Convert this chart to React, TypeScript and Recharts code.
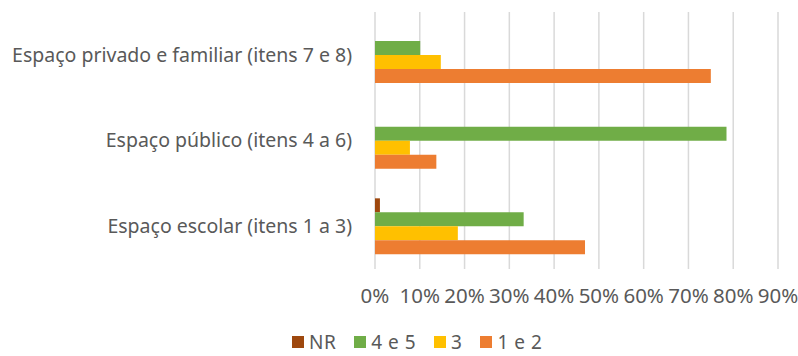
import { BarChart, Bar, XAxis, YAxis, CartesianGrid } from 'recharts';

// categories (top to bottom) and series values as fractions
const categories = [
  'Espaço privado e familiar (itens 7 e 8)',
  'Espaço público (itens 4 a 6)',
  'Espaço escolar (itens 1 a 3)',
];
const nr = [0, 0, 0.011];
const quatroCinco = [0.101, 0.785, 0.332];
const tres = [0.147, 0.078, 0.185];
const umDois = [0.75, 0.137, 0.469];
const xTicks = [0, 0.1, 0.2, 0.3, 0.4, 0.5, 0.6, 0.7, 0.8, 0.9];

const series = [
  { key: 'nr', name: 'NR', color: '#9E480E' },
  { key: 'q45', name: '4 e 5', color: '#70AD47' },
  { key: 't3', name: '3', color: '#FFC000' },
  { key: 'u12', name: '1 e 2', color: '#ED7D31' },
];

const data = categories.map((cat, i) => ({
  cat,
  nr: nr[i],
  q45: quatroCinco[i],
  t3: tres[i],
  u12: umDois[i],
}));

const font = '"Noto Sans", sans-serif';
const grey = '#595959';

const App = () => {
  return (
    <div style={{ position: 'absolute', left: 0, top: 0, width: 798, height: 356, background: '#fff', fontFamily: font }}>
      <BarChart
        width={798}
        height={356}
        data={data}
        layout="vertical"
        margin={{ top: 12, right: 20, bottom: 57, left: 0 }}
        barCategoryGap="17%"
        barGap={0}
      >
        <CartesianGrid horizontal={false} stroke="#d9d9d9" strokeWidth={1.5} />
        <XAxis
          type="number"
          domain={[0, 0.9]}
          ticks={xTicks}
          tickFormatter={(v: number) => `${Math.round(v * 100)}%`}
          axisLine={false}
          tickLine={false}
          tick={{ fill: grey, fontSize: 20.5, fontFamily: font }}
          tickMargin={13}
          interval={0}
          height={30}
        />
        <YAxis
          type="category"
          dataKey="cat"
          width={375}
          axisLine={false}
          tickLine={false}
          tick={{ fill: grey, fontSize: 19.5, fontFamily: font }}
          tickMargin={17}
          interval={0}
        />
        {series.map((s) => (
          <Bar key={s.key} dataKey={s.key} name={s.name} fill={s.color} barSize={14} isAnimationActive={false} />
        ))}
      </BarChart>
      <div
        style={{
          position: 'absolute',
          top: 332,
          left: 292,
          display: 'flex',
          color: grey,
          fontSize: 19,
          lineHeight: '20px',
          fontFamily: font,
        }}
      >
        {series.map((s) => (
          <div key={s.key} style={{ display: 'flex', alignItems: 'center', marginRight: 18 }}>
            <span style={{ display: 'inline-block', width: 12, height: 12, background: s.color, marginRight: 5 }} />
            <span style={{ letterSpacing: 0.5 }}>{s.name}</span>
          </div>
        ))}
      </div>
    </div>
  );
};

export default App;
